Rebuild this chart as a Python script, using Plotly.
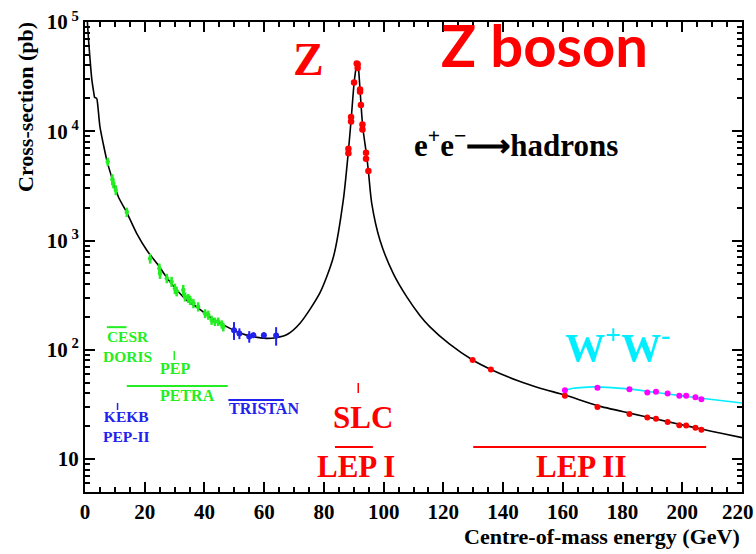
import math
import plotly.graph_objects as go

# ---------------- data ----------------
# theory curve e+e- -> hadrons (GeV, pb)
curve_x = [0.8, 1.2, 1.7, 2.3, 3.0, 3.2, 3.9, 4.3, 5.0, 6.1, 7.4, 9.3, 11.2, 14.0, 17.3,
           20.7, 24.9, 27.4, 30.1, 34.0, 37.5, 40.8, 44.0, 47.0, 51.9, 56.0, 60.8, 64.0,
           67.5, 72.0, 78.7, 83.2, 86.5, 88.2, 89.1, 90.1, 90.6, 91.0, 91.3, 91.6, 92.1,
           93.0, 94.3, 94.9, 96.0, 98.8, 103.2, 107.7, 112.2, 115.5, 122.0, 129.8, 135.9,
           145.0, 152.4, 160.7, 171.6, 182.3, 191.2, 199.0, 206.4, 213.0, 220.0]
curve_y = [100000, 68000, 45000, 29500, 22000, 20500, 20000, 17000, 11000, 7700, 5300, 3550,
           2500, 1800, 1165, 815, 575, 457, 370, 285, 245, 209, 183, 165, 142, 132, 127, 129,
           137, 175, 333, 710, 2350, 6600, 12600, 27500, 35500, 41500, 41000, 37000, 24000,
           11000, 6000, 4300, 2200, 1000, 500, 306, 205, 162, 113, 80.5, 66,
           52, 44.5, 38.5, 30.8, 26.3, 23.2, 20.8, 18.8, 17.2, 15.7]

# low-energy measurements (green)
low_x = [7.6, 9.15, 9.5, 10.3, 14.0, 21.8, 24.9, 25.1, 27.4, 29.0, 30.1, 30.7, 32.9, 33.5,
         34.6, 35.2, 36.3, 37.9, 40.2, 41.3, 42.4, 43.5, 44.6, 45.8, 46.3]
low_y = [5270, 3630, 3330, 2900, 1820, 685, 556, 500, 451, 420, 363, 343, 352, 306,
         296, 285, 266, 248, 215, 208, 187, 181, 181, 171, 162]
low_err = [450, 420, 330, 300, 180, 70, 60, 55, 45, 45, 40, 35, 40, 30,
           28, 28, 26, 24, 20, 20, 18, 16, 16, 15, 15]

# TRISTAN measurements (blue)
tri_x = [49.9, 51.7, 55.0, 56.4, 59.9, 64.0]
tri_y = [151, 141, 132, 136, 136, 135]
tri_err = [28, 16, 16, 8, 9, 26]

# LEP I / SLC Z-peak measurements (red)
z_x = [88.2, 88.2, 89.1, 89.1, 90.1, 91.0, 91.3, 91.3, 92.1, 92.1, 92.4, 92.9, 92.9,
       94.1, 94.1, 94.9]
z_y = [6900, 6300, 13500, 12300, 27900, 41700, 41000, 38000, 24100, 23000, 17400, 11500,
       10400, 6340, 5600, 4330]

# LEP II hadronic cross-sections (red)
lep2_x = [129.8, 135.9, 160.7, 171.6, 182.3, 188.3, 191.2, 195.1, 199.0, 201.3, 204.4, 206.4]
lep2_y = [80.5, 66, 38, 30, 25.8, 24, 23.4, 21.8, 20.4, 20.3, 19.3, 18.5]

# W+W- cross-section (magenta points, cyan curve)
ww_x = [160.7, 171.6, 182.3, 188.3, 191.2, 195.1, 199.0, 201.3, 204.4, 206.4]
ww_y = [42.7, 45, 43.4, 40.7, 41.2, 39.8, 38, 38, 36.7, 35.2]
wwc_x = [160.7, 163.5, 167.0, 170.0, 175.0, 182.0, 190.0, 200.0, 210.0, 220.0]
wwc_y = [42.7, 44.4, 45.3, 45.7, 45.3, 43.8, 41.0, 37.8, 35.0, 32.6]

# accelerator energy ranges (horizontal bars) and single energies (ticks)
range_names = ["CESR", "PETRA", "TRISTAN", "LEP I", "LEP II"]
range_lo = [7.3, 14.0, 48.0, 83.7, 130.0]
range_hi = [13.9, 47.8, 66.6, 96.4, 208.0]
range_level = [161, 46.5, 34.7, 12.9, 12.9]
tick_names = ["PEP", "KEKB", "SLC"]
tick_energy = [29.9, 10.9, 91.5]
tick_lo = [80.5, 28.1, 40.2]
tick_hi = [97.3, 32.6, 49.7]

x_ticks = [0, 20, 40, 60, 80, 100, 120, 140, 160, 180, 200, 220]
x_ticktext = ["0", "20", "40", "60", "80", "100", "120", "140", "160", "180", "200", ""]
x_last_label = "220"   # drawn flush with the right edge, as in the reference
y_ticks = [10, 100, 1000, 10000, 100000]
y_ticktext = ["10", "10<sup> 2</sup>", "10<sup> 3</sup>", "10<sup> 4</sup>", "10<sup> 5</sup>"]

# ---------------- styles ----------------
GREEN = "#22ee22"
BLUE = "#2222ee"
RED = "#ff0000"
CYAN = "#00eeff"
MAGENTA = "#ff00ff"
SERIF = "Liberation Serif"
fac_color = {"CESR": GREEN, "PETRA": GREEN, "TRISTAN": BLUE, "LEP I": RED, "LEP II": RED,
             "PEP": GREEN, "KEKB": BLUE, "SLC": RED}
TICKFONT = dict(family=SERIF, size=21, color="black", weight="bold")

fig = go.Figure()

fig.add_trace(go.Scatter(x=curve_x, y=curve_y, mode="lines",
                         line=dict(color="black", width=1.6, shape="spline", smoothing=0.7),
                         hoverinfo="skip"))
fig.add_trace(go.Scatter(x=wwc_x, y=wwc_y, mode="lines",
                         line=dict(color=CYAN, width=1.6, shape="spline", smoothing=0.8)))

for name, lo, hi, lev in zip(range_names, range_lo, range_hi, range_level):
    fig.add_trace(go.Scatter(x=[lo, hi], y=[lev, lev], mode="lines",
                             line=dict(color=fac_color[name], width=2)))
for name, e, lo, hi in zip(tick_names, tick_energy, tick_lo, tick_hi):
    fig.add_trace(go.Scatter(x=[e, e], y=[lo, hi], mode="lines",
                             line=dict(color=fac_color[name], width=1.5)))

fig.add_trace(go.Scatter(x=low_x, y=low_y, mode="markers",
                         marker=dict(color=GREEN, size=4.5),
                         error_y=dict(type="data", array=low_err, color=GREEN,
                                      thickness=2.5, width=0)))
fig.add_trace(go.Scatter(x=tri_x, y=tri_y, mode="markers",
                         marker=dict(color=BLUE, size=6),
                         error_y=dict(type="data", array=tri_err, color=BLUE,
                                      thickness=2, width=0)))
fig.add_trace(go.Scatter(x=z_x, y=z_y, mode="markers",
                         marker=dict(color=RED, size=6.5)))
fig.add_trace(go.Scatter(x=lep2_x, y=lep2_y, mode="markers",
                         marker=dict(color=RED, size=6)))
fig.add_trace(go.Scatter(x=ww_x, y=ww_y, mode="markers",
                         marker=dict(color=MAGENTA, size=6)))


def label(text, x, y, size, color, anchor="center", family=SERIF):
    fig.add_annotation(text=text, x=x, y=math.log10(y), xref="x", yref="y",
                       showarrow=False, xanchor=anchor, yanchor="middle", borderpad=0,
                       font=dict(family=family, size=size, color=color, weight="bold"))


label("Z", 74.7, 45000, 46, RED)
label("Z boson", 154, 61600, 58, RED, family="Lato")
label("e<sup>+</sup>e<sup>−</sup>⟶hadrons", 109.8, 7650, 31, "black", anchor="left")
label("W<sup>+</sup>W<sup>-</sup>", 178.2, 110.6, 40, CYAN)
label("SLC", 93.1, 24.2, 31, RED)
label("LEP I", 90.9, 8.63, 31, RED)
label("LEP II", 166.0, 8.63, 31, RED)
label("CESR<br>DORIS", 5.7, 107, 15.5, GREEN, anchor="left")
label("PEP", 30.1, 66.7, 16, GREEN)
label("PETRA", 34.3, 37.8, 16, GREEN)
label("TRISTAN", 47.9, 29.3, 16, BLUE, anchor="left")
label("KEKB<br>PEP-II", 5.7, 19.8, 15.5, BLUE, anchor="left")

# last x tick label, kept inside the page
fig.add_annotation(text=x_last_label, xref="x", yref="paper", x=x_ticks[-1], y=0,
                   xanchor="right", yanchor="middle", xshift=13, yshift=-20,
                   showarrow=False, borderpad=0, font=TICKFONT)

fig.add_annotation(text="Cross-section (pb)", textangle=-90, xref="paper", yref="paper",
                   x=0, y=1, xanchor="center", yanchor="top", xshift=-60, yshift=2,
                   showarrow=False,
                   font=dict(family=SERIF, size=22, color="black", weight="bold"))
fig.add_annotation(text="Centre-of-mass energy (GeV)", xref="paper", yref="paper",
                   x=1, y=0, xanchor="right", yanchor="top", xshift=0, yshift=-30,
                   showarrow=False,
                   font=dict(family=SERIF, size=22, color="black", weight="bold"))

minor_y = [k * 10 ** d for d in range(0, 5) for k in range(2, 10) if k * 10 ** d >= 5]

fig.update_layout(
    width=756, height=554,
    margin=dict(l=85, r=14, t=22, b=62, autoexpand=False),
    paper_bgcolor="white", plot_bgcolor="white",
    showlegend=False,
    xaxis=dict(range=[0, 220], tickmode="array", tickvals=x_ticks, ticktext=x_ticktext,
               ticks="inside", ticklen=10, tickwidth=2, tickcolor="black",
               showline=True, linewidth=2, linecolor="black", mirror="ticks",
               showgrid=False, zeroline=False, automargin=False,
               tickfont=TICKFONT,
               minor=dict(ticks="inside", ticklen=5, tickwidth=1.5, dtick=5,
                          tickcolor="black", showgrid=False)),
    yaxis=dict(type="log", range=[0.698, 5], tickmode="array", tickvals=y_ticks,
               ticktext=y_ticktext, automargin=False,
               ticks="inside", ticklen=10, tickwidth=2, tickcolor="black",
               showline=True, linewidth=2, linecolor="black", mirror="ticks",
               showgrid=False, zeroline=False,
               tickfont=TICKFONT,
               minor=dict(tickmode="array", tickvals=minor_y, ticks="inside", ticklen=5,
                          tickwidth=1.5, tickcolor="black", showgrid=False)),
)

fig.write_html("out.html")
